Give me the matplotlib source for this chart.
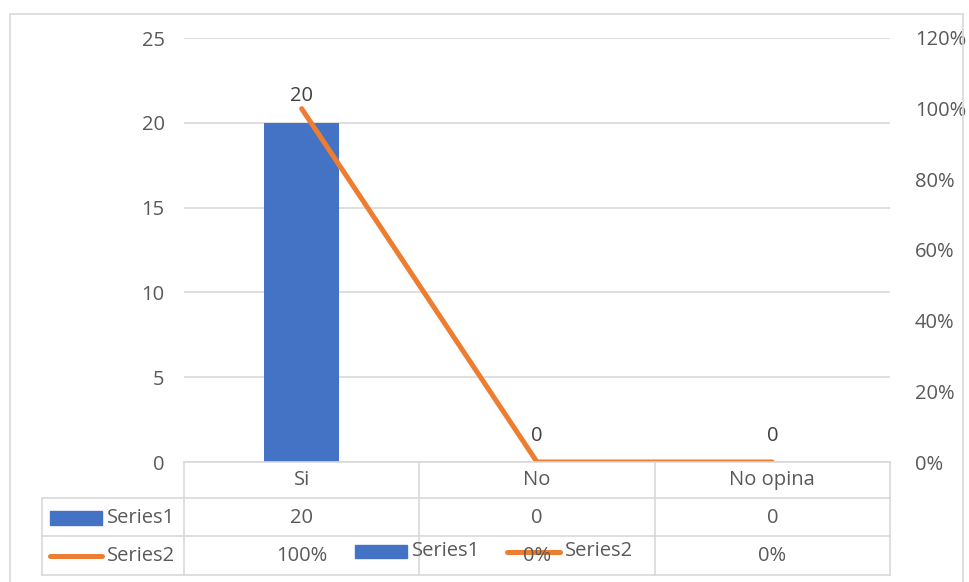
import matplotlib.pyplot as plt
from matplotlib.patches import Rectangle
from matplotlib.lines import Line2D

plt.rcParams['font.family'] = ['Open Sans', 'DejaVu Sans']

categories = ['Si', 'No', 'No opina']
series1 = [20, 0, 0]
series2 = [1.0, 0.0, 0.0]
series1_txt = ['20', '0', '0']
series2_txt = ['100%', '0%', '0%']

W, H = 970, 582
blue = '#4472C4'
orange = '#ED7D31'
txt = '#595959'
grid = '#D9D9D9'
fs = 14.5

def fx(px):
    return px / W

def fy(py):
    return 1 - py / H

fig = plt.figure(figsize=(9.7, 5.82), dpi=100)

# chart frame
fig.patches.append(Rectangle((fx(10), fy(590)), fx(963) - fx(10), fy(14) - fy(590),
                             transform=fig.transFigure, fill=False, ec=grid, lw=1.2))

ax = fig.add_axes([fx(184), fy(462), fx(890) - fx(184), fy(38) - fy(462)])
x = list(range(len(categories)))
ax.bar(x, series1, width=0.32, color=blue, zorder=2)
ax.set_xlim(-0.5, 2.5)
ax.set_ylim(0, 25)
ax.set_yticks(range(0, 26, 5))
ax.yaxis.grid(True, color=grid, lw=1.2)
ax.set_axisbelow(True)
ax.set_xticks([])
for s in ax.spines.values():
    s.set_visible(False)
ax.tick_params(axis='y', length=0, pad=14, labelsize=fs, labelcolor=txt)

ax2 = ax.twinx()
ax2.plot(x, series2, color=orange, lw=3.6, solid_capstyle='round', zorder=3)
ax2.set_ylim(0, 1.2)
ax2.set_yticks([i / 5 for i in range(7)])
ax2.set_yticklabels([f'{i * 20}%' for i in range(7)])
for s in ax2.spines.values():
    s.set_visible(False)
ax2.tick_params(axis='y', length=0, pad=18, labelsize=fs, labelcolor=txt)

for i, v in enumerate(series1):
    ax2.annotate(series1_txt[i], (i, v / 25 * 1.2), xytext=(0, 19), textcoords='offset points',
                 ha='center', va='center', fontsize=fs, color='#404040', zorder=5)

# data table
col_x = [42, 184, 419, 655, 890]
row_y = [462, 498, 536, 575]
lines = []
for yy in row_y:
    x0 = 184 if yy == 462 else 42
    lines.append(([fx(x0), fx(890)], [fy(yy), fy(yy)]))
for xx in col_x:
    y0 = 498 if xx == 42 else 462
    lines.append(([fx(xx), fx(xx)], [fy(y0), fy(575)]))
for lx, ly in lines:
    fig.add_artist(Line2D(lx, ly, color=grid, lw=1.2, transform=fig.transFigure))

for i, c in enumerate(categories):
    cx = fx(184 + (i + 0.5) * (890 - 184) / 3)
    fig.text(cx, fy(480), c, ha='center', va='center', fontsize=fs, color=txt)
    fig.text(cx, fy(518), series1_txt[i], ha='center', va='center', fontsize=fs, color=txt)
    fig.text(cx, fy(556), series2_txt[i], ha='center', va='center', fontsize=fs, color=txt)

fig.patches.append(Rectangle((fx(50), fy(525)), fx(52), fy(511) - fy(525),
                             transform=fig.transFigure, color=blue))
fig.text(fx(107), fy(518), 'Series1', ha='left', va='center', fontsize=fs, color=txt)
fig.add_artist(Line2D([fx(50), fx(102)], [fy(556), fy(556)], color=orange, lw=3.6,
                      solid_capstyle='round', transform=fig.transFigure))
fig.text(fx(107), fy(556), 'Series2', ha='left', va='center', fontsize=fs, color=txt)

# legend overlapping the table
fig.patches.append(Rectangle((fx(355), fy(558)), fx(52), fy(545) - fy(558),
                             transform=fig.transFigure, color=blue))
fig.text(fx(412), fy(551), 'Series1', ha='left', va='center', fontsize=fs, color=txt)
fig.add_artist(Line2D([fx(507), fx(560)], [fy(552), fy(552)], color=orange, lw=3.6,
                      solid_capstyle='round', transform=fig.transFigure))
fig.text(fx(565), fy(551), 'Series2', ha='left', va='center', fontsize=fs, color=txt)

fig.savefig('out.png', dpi=100)
